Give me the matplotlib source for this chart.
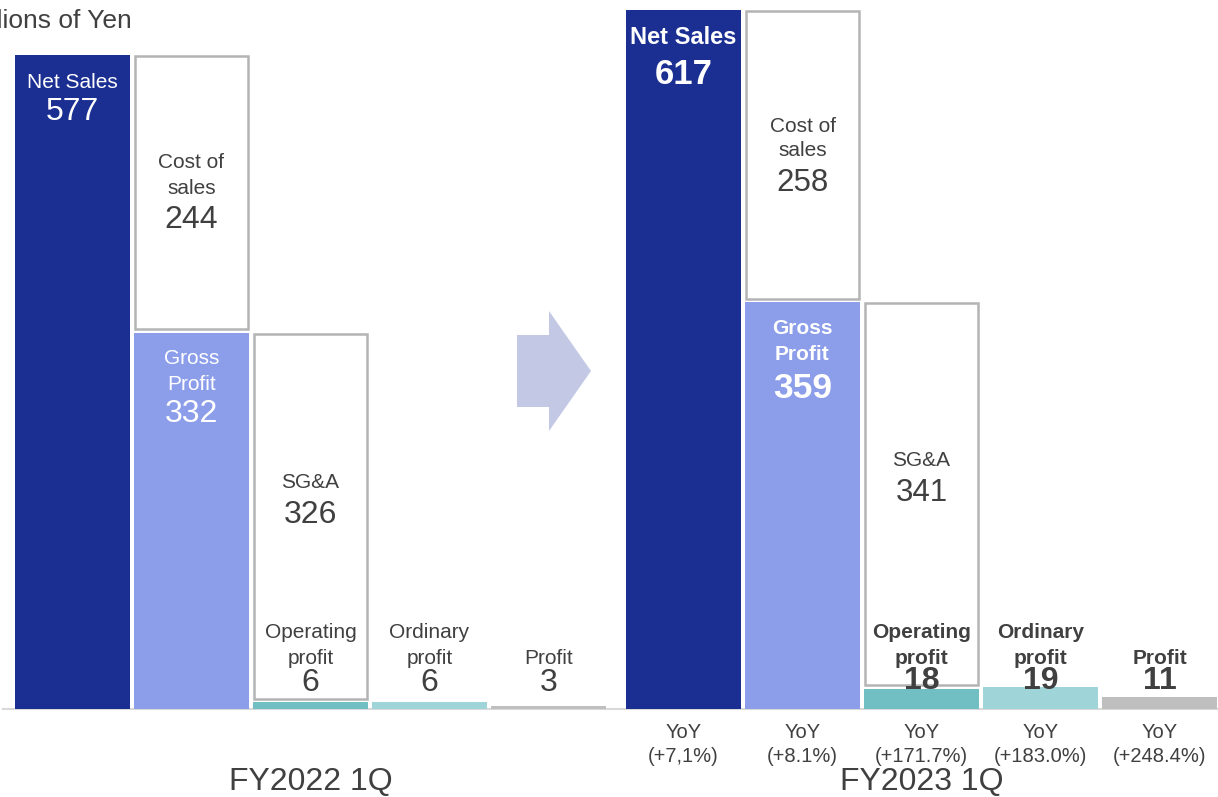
import matplotlib.pyplot as plt
from matplotlib.patches import Polygon

plt.rcParams['font.family'] = ['Liberation Sans', 'DejaVu Sans']

# data (millions of yen)
periods = ['FY2022 1Q', 'FY2023 1Q']
net_sales = [577, 617]
cost_of_sales = [244, 258]
gross_profit = [332, 359]
sga = [326, 341]
operating_profit = [6, 18]
ordinary_profit = [6, 19]
profit = [3, 11]
yoy = ['(+7,1%)', '(+8.1%)', '(+171.7%)', '(+183.0%)', '(+248.4%)']

NAVY = '#1B2F92'
PERI = '#8C9EEA'
TEAL = '#72BFC3'
LTEAL = '#9FD4D9'
GREY = '#BFBFBF'
EDGE = '#B4B4B4'
TXT = '#404040'

W, H = 1218, 797
K = 1.1335          # px per unit
BASE = 709          # baseline pixel row


def ty(py, shift=2):
    # pixel row -> data y (text sits ~2px lower than bbox centre)
    return (BASE - py - shift) / K


fig = plt.figure(figsize=(W / 100, H / 100), dpi=100)
ax = fig.add_axes([0, 0, 1, 1])
ax.set_xlim(-72.5 / 119, (W - 72.5) / 119)
ax.set_ylim(-(H - BASE) / K, BASE / K)
ax.axis('off')

bw = 115 / 119
offsets = [0, 611 / 119]

ax.axhline(0, xmin=3 / W, xmax=1, color='#D9D9D9', lw=1.5, zorder=1)

for g, x0 in enumerate(offsets):
    xs = [x0 + i for i in range(5)]
    ax.bar(xs[0], net_sales[g], width=bw, color=NAVY, zorder=2)
    ax.bar(xs[1], net_sales[g] - gross_profit[g] - 4, bottom=gross_profit[g] + 3,
           width=bw - 0.02, color='white', edgecolor=EDGE, lw=1.8, zorder=2)
    ax.bar(xs[1], gross_profit[g], width=bw, color=PERI, zorder=2)
    ax.bar(xs[2], gross_profit[g] - operating_profit[g] - 4, bottom=operating_profit[g] + 3,
           width=bw - 0.02, color='white', edgecolor=EDGE, lw=1.8, zorder=2)
    ax.bar(xs[2], operating_profit[g], width=bw, color=TEAL, zorder=2)
    ax.bar(xs[3], ordinary_profit[g], width=bw, color=LTEAL, zorder=2)
    ax.bar(xs[4], profit[g], width=bw, color=GREY, zorder=2)

# left group labels (regular weight)
x0 = offsets[0]
kw = dict(ha='center', va='center', zorder=5)
ax.text(x0, ty(80), 'Net Sales', color='white', fontsize=15, **kw)
ax.text(x0, ty(110), f'{net_sales[0]}', color='white', fontsize=23, **kw)
ax.text(x0 + 1, ty(161), 'Cost of', color=TXT, fontsize=15, **kw)
ax.text(x0 + 1, ty(186), 'sales', color=TXT, fontsize=15, **kw)
ax.text(x0 + 1, ty(218), f'{cost_of_sales[0]}', color=TXT, fontsize=23, **kw)
ax.text(x0 + 1, ty(357), 'Gross', color='white', fontsize=15, **kw)
ax.text(x0 + 1, ty(382), 'Profit', color='white', fontsize=15, **kw)
ax.text(x0 + 1, ty(412), f'{gross_profit[0]}', color='white', fontsize=23, **kw)
ax.text(x0 + 2, ty(480), 'SG&A', color=TXT, fontsize=15, **kw)
ax.text(x0 + 2, ty(513), f'{sga[0]}', color=TXT, fontsize=23, **kw)
ax.text(x0 + 2, ty(631), 'Operating', color=TXT, fontsize=15, **kw)
ax.text(x0 + 2, ty(657), 'profit', color=TXT, fontsize=15, **kw)
ax.text(x0 + 2, ty(681), f'{operating_profit[0]}', color=TXT, fontsize=23, **kw)
ax.text(x0 + 3, ty(631), 'Ordinary', color=TXT, fontsize=15, **kw)
ax.text(x0 + 3, ty(657), 'profit', color=TXT, fontsize=15, **kw)
ax.text(x0 + 3, ty(681), f'{ordinary_profit[0]}', color=TXT, fontsize=23, **kw)
ax.text(x0 + 4, ty(657), 'Profit', color=TXT, fontsize=15, **kw)
ax.text(x0 + 4, ty(681), f'{profit[0]}', color=TXT, fontsize=23, **kw)

# right group labels
x1 = offsets[1]
ax.text(x1, ty(36), 'Net Sales', color='white', fontsize=17, fontweight='bold', **kw)
ax.text(x1, ty(72), f'{net_sales[1]}', color='white', fontsize=25, fontweight='bold', **kw)
ax.text(x1 + 1, ty(124), 'Cost of', color=TXT, fontsize=15, **kw)
ax.text(x1 + 1, ty(149), 'sales', color=TXT, fontsize=15, **kw)
ax.text(x1 + 1, ty(181), f'{cost_of_sales[1]}', color=TXT, fontsize=22.5, **kw)
ax.text(x1 + 1, ty(327), 'Gross', color='white', fontsize=15, fontweight='bold', **kw)
ax.text(x1 + 1, ty(352), 'Profit', color='white', fontsize=15, fontweight='bold', **kw)
ax.text(x1 + 1, ty(386), f'{gross_profit[1]}', color='white', fontsize=25.5, fontweight='bold', **kw)
ax.text(x1 + 2, ty(459), 'SG&A', color=TXT, fontsize=15, **kw)
ax.text(x1 + 2, ty(491), f'{sga[1]}', color=TXT, fontsize=22.5, **kw)
ax.text(x1 + 2, ty(631), 'Operating', color=TXT, fontsize=15, fontweight='bold', **kw)
ax.text(x1 + 2, ty(657), 'profit', color=TXT, fontsize=15, fontweight='bold', **kw)
ax.text(x1 + 2, ty(679), f'{operating_profit[1]}', color=TXT, fontsize=23, fontweight='bold', **kw)
ax.text(x1 + 3, ty(631), 'Ordinary', color=TXT, fontsize=15, fontweight='bold', **kw)
ax.text(x1 + 3, ty(657), 'profit', color=TXT, fontsize=15, fontweight='bold', **kw)
ax.text(x1 + 3, ty(679), f'{ordinary_profit[1]}', color=TXT, fontsize=23, fontweight='bold', **kw)
ax.text(x1 + 4, ty(657), 'Profit', color=TXT, fontsize=15, fontweight='bold', **kw)
ax.text(x1 + 4, ty(679), f'{profit[1]}', color=TXT, fontsize=23, fontweight='bold', **kw)

for i, s in enumerate(yoy):
    ax.text(x1 + i, ty(731), 'YoY', color=TXT, fontsize=14.5, **kw)
    ax.text(x1 + i, ty(755), s, color=TXT, fontsize=14.5, **kw)

ax.text(x0 + 2, ty(782, 0), periods[0], color=TXT, fontsize=23, **kw)
ax.text(x1 + 2, ty(782, 0), periods[1], color=TXT, fontsize=23, **kw)

# unit label, clipped at the left edge as in the source slide
ax.text(132 / W, 1 - 21 / H, 'Millions of Yen', transform=fig.transFigure,
        ha='right', va='center', color=TXT, fontsize=19)

# arrow between the periods
pts = [(517, 335), (549, 335), (549, 311), (591, 371), (549, 431), (549, 407), (517, 407)]
arrow = Polygon([(px / W, 1 - py / H) for px, py in pts], closed=True,
                transform=fig.transFigure, color='#C3C9E4', lw=0)
fig.patches.append(arrow)

fig.savefig('out.png', dpi=100)
